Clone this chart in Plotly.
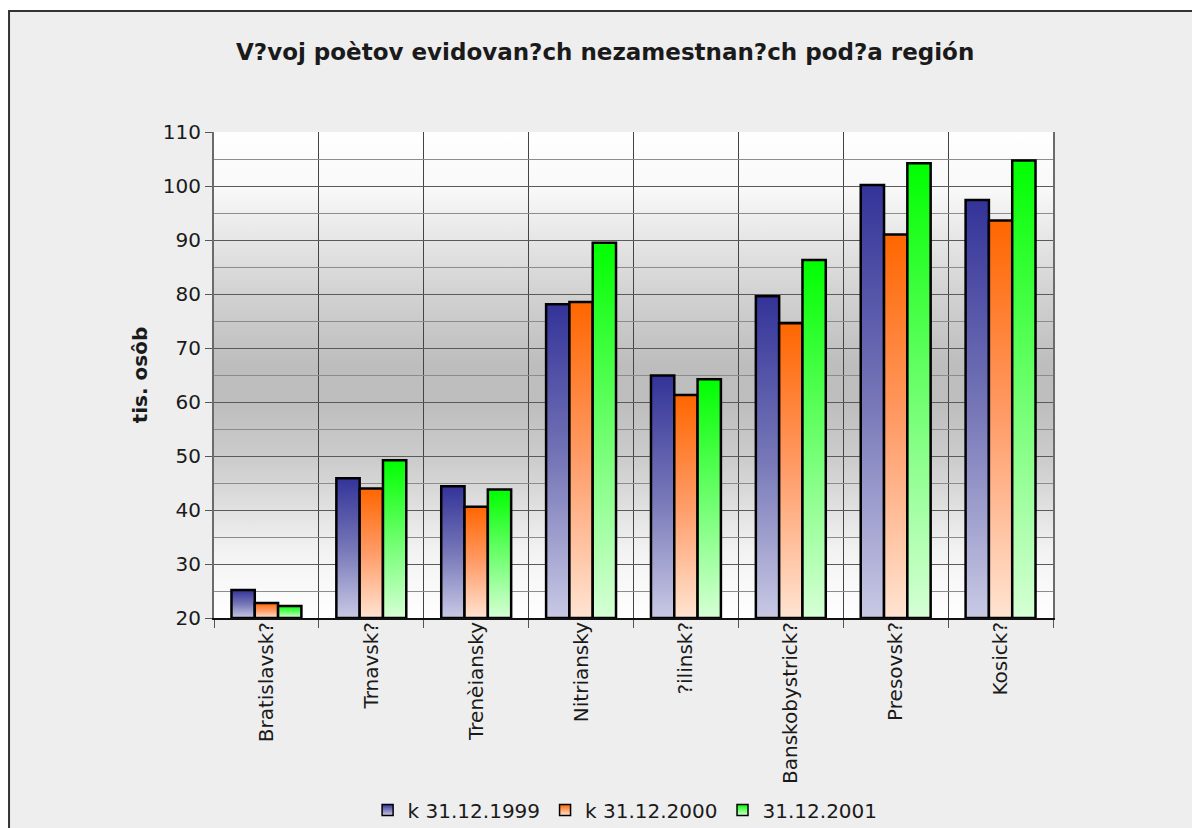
import base64
import plotly.graph_objects as go

# data (thousands of persons)
regions = ["Bratislavsk?", "Trnavsk?", "Trenèiansky", "Nitriansky",
           "?ilinsk?", "Banskobystrick?", "Presovsk?", "Kosick?"]
series_names = ["k 31.12.1999", "k 31.12.2000", "31.12.2001"]
v1999 = [25.2, 45.9, 44.4, 78.1, 64.9, 79.6, 100.2, 97.4]
v2000 = [22.8, 44.0, 40.6, 78.5, 61.3, 74.6, 91.0, 93.6]
v2001 = [22.2, 49.2, 43.8, 89.5, 64.2, 86.3, 104.2, 104.7]
y_ticks = [20, 30, 40, 50, 60, 70, 80, 90, 100, 110]

# gradients: bottom (light) -> top (dark)
grads = [
    [[0, "#c9c9e5"], [0.5, "#7676b8"], [1, "#333399"]],
    [[0, "#ffe4d2"], [0.5, "#ff9c68"], [1, "#ff6600"]],
    [[0, "#d6ffd6"], [0.5, "#6cff6c"], [1, "#00ff00"]],
]
top_cols = ["#333399", "#ff6600", "#00ff00"]
low_cols = ["#c9c9e5", "#ffe4d2", "#d6ffd6"]

YMIN, YMAX = 20, 110
BW = 2 / 9  # bar width in category units (gap width 150%)

fig = go.Figure()
all_vals = [v1999, v2000, v2001]
for i, reg in enumerate(regions):
    for k, vals in enumerate(all_vals):
        xc = i + (k - 1) * BW
        xl, xr = xc - BW / 2, xc + BW / 2
        v = vals[i]
        fig.add_trace(go.Scatter(
            x=[xl, xl, xr, xr, xl], y=[YMIN, v, v, YMIN, YMIN],
            mode="lines", fill="toself",
            line=dict(color="#000000", width=2.5),
            fillgradient=dict(type="vertical", colorscale=grads[k],
                              start=YMIN, stop=v),
            name=series_names[k], legendgroup=series_names[k],
            showlegend=False,
            hoveron="fills", text=f"{series_names[k]} - {reg}: {v}",
            hoverinfo="text",
        ))

# legend entries (square swatches like the original)
for k, name in enumerate(series_names):
    fig.add_trace(go.Scatter(
        x=[None], y=[None], mode="markers", name=name, legendgroup=name,
        marker=dict(symbol="square", size=11, color=top_cols[k],
                    gradient=dict(type="vertical", color=low_cols[k]),
                    line=dict(color="#000000", width=1.5)),
    ))

# plot-area background gradient (white - gray - white)
svg = ('<svg xmlns="http://www.w3.org/2000/svg" width="100" height="100" '
       'viewBox="0 0 100 100" preserveAspectRatio="none">'
       '<defs><linearGradient id="g" x1="0" y1="0" x2="0" y2="1">'
       '<stop offset="0" stop-color="#ffffff"/>'
       '<stop offset="0.12" stop-color="#f8f8f8"/>'
       '<stop offset="0.32" stop-color="#d4d4d4"/>'
       '<stop offset="0.48" stop-color="#bdbdbd"/>'
       '<stop offset="0.56" stop-color="#bebebe"/>'
       '<stop offset="0.68" stop-color="#cdcdcd"/>'
       '<stop offset="0.86" stop-color="#f2f2f2"/>'
       '<stop offset="1" stop-color="#ffffff"/>'
       '</linearGradient></defs>'
       '<rect x="0" y="0" width="100" height="100" fill="url(#g)"/></svg>')
src = "data:image/svg+xml;base64," + base64.b64encode(svg.encode()).decode()
fig.add_layout_image(dict(source=src, xref="x", yref="y", x=-0.5, y=YMAX,
                          sizex=8, sizey=YMAX - YMIN, sizing="stretch",
                          xanchor="left", yanchor="top", layer="below"))

# outer frame
fig.add_shape(type="rect", xref="paper", yref="paper",
              x0=-0.2443, x1=1.3, y0=-0.6, y1=1.249,
              fillcolor="#eeeeee", line=dict(color="#333333", width=2),
              layer="below")

font = "Verdana, DejaVu Sans, sans-serif"
fig.update_layout(
    width=1192, height=828,
    margin=dict(l=214, r=139, t=132, b=210, autoexpand=False),
    paper_bgcolor="#ffffff", plot_bgcolor="rgba(0,0,0,0)",
    font=dict(family=font, size=20, color="#1a1a1a"),
    title=dict(text="V?voj poètov evidovan?ch nezamestnan?ch pod?a región",
               x=236 / 1192, xanchor="left", xref="container",
               y=1 - 52 / 828, yanchor="middle",
               font=dict(family=font, size=23, weight="bold", color="#1a1a1a")),
    showlegend=True,
    legend=dict(orientation="h", x=0.49, xanchor="center",
                yref="container", y=1 - 810 / 828, yanchor="middle",
                font=dict(size=20), bgcolor="rgba(0,0,0,0)",
                itemwidth=30, tracegroupgap=0),
    hovermode="closest",
)
fig.update_xaxes(
    range=[-0.5, 7.5], tickmode="array", tickvals=list(range(len(regions))),
    ticktext=regions, tickangle=-90, ticks="", showgrid=False, zeroline=False,
    showline=True, linecolor="#111111", linewidth=2, automargin=False,
    tickfont=dict(size=20, color="#1a1a1a"), ticklabelstandoff=-6,
    minor=dict(tickmode="array", tickvals=[j - 0.5 for j in range(len(regions) + 1)],
               ticks="outside", ticklen=8, tickcolor="#555555", tickwidth=1,
               showgrid=True, gridcolor="#444444", gridwidth=1),
)
fig.update_yaxes(
    range=[YMIN, YMAX], tickmode="array", tickvals=y_ticks,
    ticks="outside", ticklen=7, tickcolor="#555555", automargin=False,
    showgrid=True, gridcolor="#5a5a5a", gridwidth=1, zeroline=False,
    showline=True, linecolor="#6b6b6b", linewidth=2, mirror=True,
    tickfont=dict(size=20, color="#1a1a1a"),
    minor=dict(dtick=5, tick0=0, showgrid=True, gridcolor="#8c8c8c", gridwidth=1),
    title=dict(text="tis. osôb", standoff=10,
               font=dict(family=font, size=20, weight="bold", color="#1a1a1a")),
)

fig.write_html("out.html", config={"displayModeBar": False},
               post_script="document.body.style.margin='0';")
